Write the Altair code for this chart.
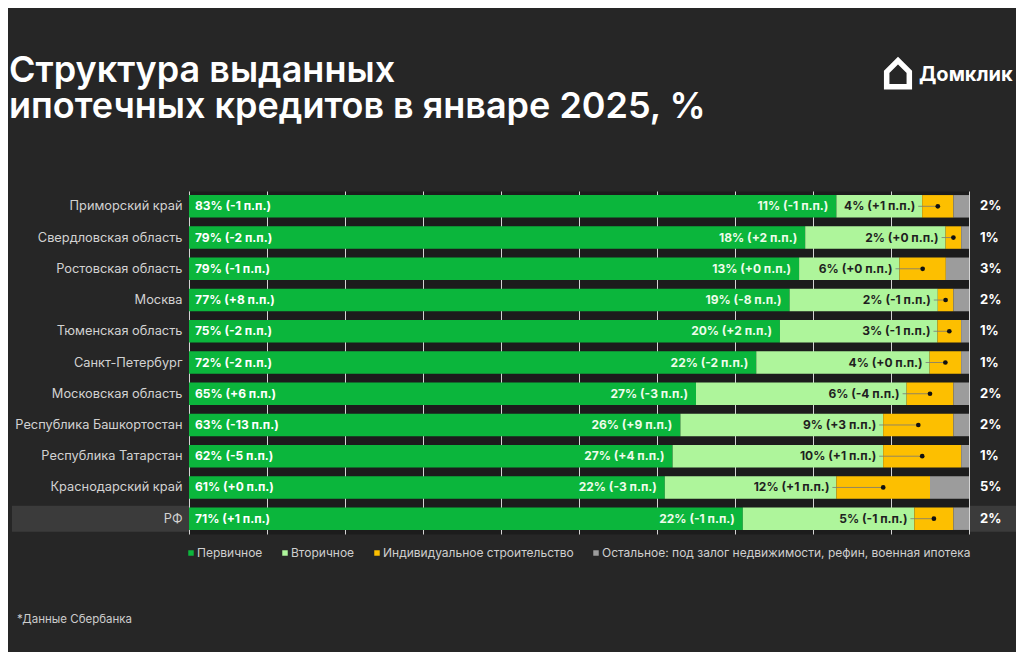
import altair as alt
import pandas as pd

regions = ["Приморский край", "Свердловская область", "Ростовская область", "Москва",
           "Тюменская область", "Санкт-Петербург", "Московская область",
           "Республика Башкортостан", "Республика Татарстан", "Краснодарский край", "РФ"]
primary = [83, 79, 79, 77, 75, 72, 65, 63, 62, 61, 71]
primary_chg = [-1, -2, -1, 8, -2, -2, 6, -13, -5, 0, 1]
secondary = [11, 18, 13, 19, 20, 22, 27, 26, 27, 22, 22]
secondary_chg = [-1, 2, 0, -8, 2, -2, -3, 9, 4, -3, -1]
individual = [4, 2, 6, 2, 3, 4, 6, 9, 10, 12, 5]
individual_chg = [1, 0, 0, -1, -1, 0, -4, 3, 1, 1, -1]
other = [2, 1, 3, 2, 1, 1, 2, 2, 1, 5, 2]

categories = ["Первичное", "Вторичное", "Индивидуальное строительство",
              "Остальное: под залог недвижимости, рефин, военная ипотека"]
colors = ["#0bb63c", "#aef59b", "#fdbf00", "#9c9c9c"]

title_lines = ["Структура выданных", "ипотечных кредитов в январе 2025, %"]
logo_label = ["Домклик"]
footnote = ["*Данные Сбербанка"]

FONT = "Inter"
W, H = 780, 343


def chg(v):
    return f"+{v}" if v >= 0 else f"{v}"


rows = []
wide = []
for i, r in enumerate(regions):
    vals = [primary[i], secondary[i], individual[i], other[i]]
    tot = sum(vals)
    cum = 0.0
    edges = []
    for k, v in enumerate(vals):
        x0 = cum / tot * 100
        cum += v
        x1 = cum / tot * 100
        edges.append((x0, x1))
        rows.append({"region": r, "cat": categories[k], "ord": k, "x0": x0, "x1": x1})
    wide.append({
        "region": r,
        "p_lab": f"{primary[i]}% ({chg(primary_chg[i])} п.п.)",
        "s_lab": f"{secondary[i]}% ({chg(secondary_chg[i])} п.п.)",
        "i_lab": f"{individual[i]}% ({chg(individual_chg[i])} п.п.)",
        "o_lab": f"{other[i]}%",
        "zero": 0,
        "p_end": edges[0][1],
        "s_end": edges[1][1],
        "i_mid": (edges[2][0] + edges[2][1]) / 2,
    })

bars_df = pd.DataFrame(rows)
lab_df = pd.DataFrame(wide)

xaxis = alt.Axis(title=None, labels=False, ticks=False, domain=False, grid=True,
                 gridColor="#d4d4d4", gridWidth=1, values=list(range(0, 101, 10)))
xscale = alt.Scale(domain=[0, 100], nice=False, zero=False)
ydef = alt.Y("region:N", sort=regions, title=None,
             scale=alt.Scale(paddingInner=0.28, paddingOuter=0.13),
             axis=alt.Axis(domain=False, ticks=False, labelColor="#d2d2d2",
                           labelFont=FONT, labelFontSize=12.8, labelPadding=7,
                           labelLimit=300, zindex=2))


def X(field):
    return alt.X(field, type="quantitative", scale=xscale, axis=xaxis)


base_lab = alt.Chart(lab_df)

highlight_l = base_lab.transform_filter(alt.datum.region == "РФ").mark_bar(
    size=26, color="#3b3b3b").encode(
    x=alt.value(-177), x2=alt.value(0), y=ydef)
highlight_r = base_lab.transform_filter(alt.datum.region == "РФ").mark_bar(
    size=26, color="#3b3b3b").encode(
    x=alt.value(W + 1), x2=alt.value(W + 52), y=ydef)

bars = alt.Chart(bars_df).mark_bar().encode(
    x=X("x0"), x2="x1", y=ydef,
    color=alt.Color("cat:N", scale=alt.Scale(domain=categories, range=colors),
                    sort=categories,
                    legend=alt.Legend(title=None, orient="none", direction="horizontal",
                                      legendX=-4, legendY=356,
                                      symbolType="square", symbolSize=30,
                                      labelColor="#cfcfcf", labelFont=FONT,
                                      labelFontSize=12, labelOffset=0,
                                      columnPadding=16, labelLimit=600,
                                      symbolStrokeWidth=0)),
    order="ord:Q",
)

p_text = base_lab.mark_text(align="left", dx=6, font=FONT, fontSize=12,
                            fontWeight="bold", color="#ffffff").encode(
    x=X("zero"), y=ydef, text="p_lab:N")

s_text = base_lab.mark_text(align="right", dx=-8, font=FONT, fontSize=12,
                            fontWeight="bold", color="#eefcea").encode(
    x=X("p_end"), y=ydef, text="s_lab:N")

i_text = base_lab.mark_text(align="right", dx=-7, font=FONT, fontSize=12,
                            fontWeight="bold", color="#1f1f1f").encode(
    x=X("s_end"), y=ydef, text="i_lab:N")

connector = base_lab.mark_rule(color="#777777", strokeWidth=0.8, xOffset=-4).encode(
    x=X("s_end"), x2="i_mid", y=ydef)

dots = base_lab.mark_circle(size=22, color="#111111", opacity=1).encode(
    x=X("i_mid"), y=ydef)

o_text = base_lab.mark_text(align="left", font=FONT, fontSize=13,
                            fontWeight="bold", color="#ffffff").encode(
    x=alt.value(W + 11), y=ydef, text="o_lab:N")

t1_df = pd.DataFrame({"t": [title_lines[0]]})
t2_df = pd.DataFrame({"t": [title_lines[1]]})
title1 = alt.Chart(t1_df).mark_text(align="left", baseline="alphabetic", font=FONT,
                                    fontSize=36, fontWeight=600, color="#ffffff").encode(
    x=alt.value(-180), y=alt.value(-109), text="t:N")
title2 = alt.Chart(t2_df).mark_text(align="left", baseline="alphabetic", font=FONT,
                                    fontSize=36, fontWeight=600, color="#ffffff").encode(
    x=alt.value(-180), y=alt.value(-73), text="t:N")

logo_df = pd.DataFrame({"t": logo_label})
logo_text = alt.Chart(logo_df).mark_text(align="left", baseline="alphabetic", font=FONT,
                                         fontSize=20, fontWeight="bold",
                                         color="#ffffff").encode(
    x=alt.value(730), y=alt.value(-110), text="t:N")
logo_icon = alt.Chart(logo_df).mark_point(
    shape="M-0.8,-0.15 L0,-0.95 L0.8,-0.15 L0.8,0.9 L-0.8,0.9 Z",
    filled=False, stroke="#ffffff", strokeWidth=5.5, size=800, opacity=1).encode(
    x=alt.value(709), y=alt.value(-117))

foot_df = pd.DataFrame({"t": footnote})
foot = alt.Chart(foot_df).mark_text(align="left", baseline="middle", font=FONT,
                                    fontSize=11.5, color="#cccccc").encode(
    x=alt.value(-172), y=alt.value(429), text="t:N")

chart = alt.layer(
    highlight_l, highlight_r, bars, connector, dots, p_text, s_text, i_text, o_text,
    title1, title2, logo_icon, logo_text, foot
).properties(
    width=W, height=H,
    autosize=alt.AutoSizeParams(type="none"),
    padding={"left": 181, "top": 183, "right": 47, "bottom": 118},
    background="#262626",
).configure_view(fill="#1c1c1c", strokeOpacity=0)

chart.save("out.html", embed_options={"renderer": "svg", "actions": False})
